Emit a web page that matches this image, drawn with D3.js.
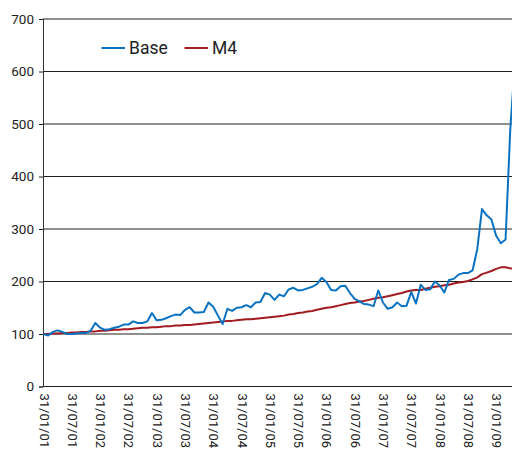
<!DOCTYPE html>
<html>
<head>
<meta charset="utf-8">
<script src="https://cdn.jsdelivr.net/npm/d3@7"></script>
<style>
  html, body { margin: 0; padding: 0; background: #fff; }
  svg { display: block; }
  text { font-family: Roboto, "Liberation Sans", sans-serif; fill: #222; }
</style>
</head>
<body>
<svg id="chart" width="512" height="454"></svg>
<script>
// Monthly data, 31/01/2001 onward (index 0 = Jan 2001)
const startYear = 2001;
const base = [100, 97, 104, 107, 104, 100, 100, 101, 102, 102, 106, 121,
  112, 108, 109, 112, 114, 118, 118, 124, 121, 121, 124, 140,
  126, 127, 130, 134, 137, 136, 146, 151, 141, 141, 142, 160,
  152, 135, 119, 148, 144, 150, 151, 155, 151, 160, 161, 178,
  175, 165, 175, 172, 185, 188, 183, 184, 187, 190, 195, 207,
  199, 184, 183, 191, 192, 178, 167, 162, 157, 156, 153, 183,
  160, 148, 151, 160, 153, 154, 180, 158, 194, 184, 185, 200,
  193, 179, 203, 205, 213, 216, 216, 221, 262, 338, 326, 318,
  287, 273, 280, 490, 620];
const m4 = [100, 100, 101, 101, 102, 102, 103, 103, 104, 104, 105, 105,
  106, 106, 107, 108, 108, 109, 109, 110, 111, 112, 112, 113,
  113, 114, 115, 115, 116, 116, 117, 117, 118, 119, 120, 121,
  122, 123, 124, 125, 125, 126, 127, 128, 128, 129, 130, 131,
  132, 133, 134, 135, 137, 138, 140, 141, 143, 144, 146, 148,
  150, 151, 153, 155, 157, 159, 160, 162, 163, 165, 167, 169,
  170, 172, 174, 176, 178, 181, 183, 184, 184, 186, 188, 190,
  191, 193, 194, 196, 198, 199, 201, 204, 208, 214, 217, 220,
  224, 227, 227, 225, 224];
const seriesNames = ["Base", "M4"];
const yTicks = [0, 100, 200, 300, 400, 500, 600, 700];
const xTickIdx = [0, 6, 12, 18, 24, 30, 36, 42, 48, 54, 60, 66, 72, 78, 84, 90, 96];

function label(i) {
  const y = startYear + Math.floor(i / 12);
  const m = (i % 12) + 1;
  return "31/" + String(m).padStart(2, "0") + "/" + String(y % 100).padStart(2, "0");
}

const svg = d3.select("#chart");
const x0 = 43.5, step = 4.715;
const x = d3.scaleLinear().domain([0, 100]).range([x0, x0 + step * 100]);
const y = d3.scaleLinear().domain([0, 700]).range([386.5, 19]);
const axisX = 43;

// gridlines
svg.append("g").selectAll("line").data(yTicks).join("line")
  .attr("x1", axisX).attr("x2", 512)
  .attr("y1", d => y(d)).attr("y2", d => y(d))
  .attr("stroke", "#1e1e1e").attr("stroke-width", 1);

// y axis
const yAxis = d3.axisLeft(y).tickValues(yTicks).tickSize(4).tickPadding(5).tickFormat(d3.format("d"));
const gy = svg.append("g").attr("transform", `translate(${axisX},0)`).call(yAxis);
gy.select(".domain").attr("stroke", "#333").attr("stroke-width", 1);
gy.selectAll(".tick line").attr("stroke", "#1e1e1e");
gy.selectAll(".tick text").attr("font-size", "13.5px").attr("fill", "#222")
  .style("font-family", "Roboto, sans-serif");

// x axis labels
const xAxis = d3.axisBottom(x).tickValues(xTickIdx).tickSize(0).tickPadding(0).tickFormat(label);
const gx = svg.append("g").attr("transform", `translate(0,${y(0)})`).call(xAxis);
gx.select(".domain").remove();
gx.selectAll(".tick text")
  .attr("font-size", "13px").attr("fill", "#222")
  .style("font-family", "Roboto, sans-serif")
  .attr("text-anchor", "start")
  .attr("dy", null).attr("y", 0)
  .attr("transform", "translate(-4.5,7) rotate(90)")
  .attr("dominant-baseline", "auto");

// clip to plot
svg.append("clipPath").attr("id", "clip").append("rect")
  .attr("x", axisX).attr("y", 0).attr("width", 512 - axisX).attr("height", 454);

const line = d3.line().x((d, i) => x(i)).y(d => y(d));
const colors = ["#0a72c2", "#a11b21"];
const g = svg.append("g").attr("clip-path", "url(#clip)");
g.append("path").datum(m4).attr("d", line).attr("fill", "none")
  .attr("stroke", colors[1]).attr("stroke-width", 2).attr("stroke-linejoin", "round");
g.append("path").datum(base).attr("d", line).attr("fill", "none")
  .attr("stroke", colors[0]).attr("stroke-width", 2).attr("stroke-linejoin", "round");

// legend
const leg = svg.append("g");
const legItems = [{name: seriesNames[0], c: colors[0], x: 101.5}, {name: seriesNames[1], c: colors[1], x: 184.5}];
legItems.forEach(it => {
  leg.append("line").attr("x1", it.x).attr("x2", it.x + 23.5).attr("y1", 48).attr("y2", 48)
    .attr("stroke", it.c).attr("stroke-width", 2);
  leg.append("text").attr("x", it.x + 27.5).attr("y", 54).attr("font-size", "17.5px")
    .attr("fill", "#222").text(it.name);
});
</script>
</body>
</html>
